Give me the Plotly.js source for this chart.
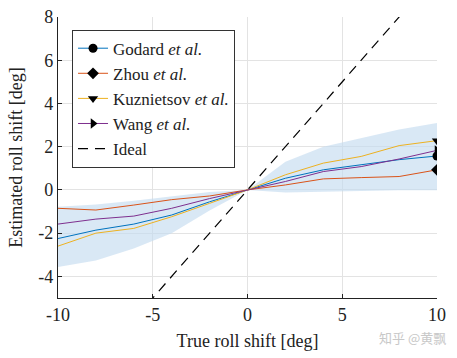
<!DOCTYPE html>
<html><head><meta charset="utf-8">
<script src="https://cdn.plot.ly/plotly-3.0.1.min.js"></script>
<style>body{margin:0;background:#fff}</style>
</head><body><div id="c" style="width:457px;height:358px"></div>
<script>
const xs = [-10,-8,-6,-4,-2,0,2,4,6,8,10];
const godard = [-2.25,-1.86,-1.58,-1.16,-0.55,0,0.54,0.93,1.16,1.40,1.57];
const zhou   = [-0.85,-0.93,-0.70,-0.45,-0.28,0,0.23,0.51,0.57,0.62,0.93];
const kuz    = [-2.60,-2.00,-1.78,-1.24,-0.62,0,0.70,1.24,1.55,2.05,2.28];
const wang   = [-1.58,-1.35,-1.21,-0.85,-0.40,0,0.39,0.85,1.08,1.43,1.83];
const bandUpper = [-0.78,-0.68,-0.50,-0.30,-0.10,0,1.30,2.00,2.41,2.79,3.10];
const bandLower = [-3.57,-3.26,-2.71,-2.00,-0.95,0,-0.12,-0.10,-0.05,-0.02,-0.02];
const idealX = [-10,10], idealY = [-10,10];
const xTicks = [-10,-5,0,5,10], xTickText = ['-10','-5','0','5','10'];
const yTicks = [-4,-2,0,2,4,6,8], yTickText = ['-4','-2','0','2','4','6','8'];
const names = ['Godard <i>et al.</i>','Zhou <i>et al.</i>','Kuznietsov <i>et al.</i>','Wang <i>et al.</i>','Ideal'];
const series = [godard, zhou, kuz, wang];
const colors = ['#0072BD','#D95319','#EDB120','#7E2F8E'];
const symbols = ['circle','diamond','triangle-down','triangle-right'];

const serif = 'Liberation Serif';
const traces = [{
  x: xs.concat(xs.slice().reverse()),
  y: bandUpper.concat(bandLower.slice().reverse()),
  fill: 'toself', fillcolor: 'rgba(196,220,240,0.65)', line: {width: 0},
  mode: 'lines', showlegend: false, hoverinfo: 'skip'
}];
series.forEach((s, i) => {
  traces.push({x: xs, y: s, mode: 'lines', showlegend: false, line: {color: colors[i], width: 1}});
  traces.push({x: xs.slice(-1), y: s.slice(-1), mode: 'markers', showlegend: false,
    marker: {symbol: symbols[i], color: '#000', size: 9}});
});
traces.push({x: idealX, y: idealY, mode: 'lines', showlegend: false, line: {color: '#000', width: 1.2, dash: '10px,7px'}});
// legend entries
series.forEach((s, i) => {
  traces.push({x: [null], y: [null], name: names[i], mode: 'lines+markers',
    line: {color: colors[i], width: 1}, marker: {symbol: symbols[i], color: '#000', size: 9}});
});
traces.push({x: [null], y: [null], name: names[4], mode: 'lines', line: {color: '#000', width: 1.2, dash: '10px,7px'}});

Plotly.newPlot('c', traces, {
  width: 457, height: 358,
  margin: {l: 58, r: 20, t: 17, b: 60},
  paper_bgcolor: '#fff', plot_bgcolor: '#fff',
  font: {family: serif, size: 17, color: '#222'},
  showlegend: true,
  legend: {x: 0.037, y: 0.955, xanchor: 'left', yanchor: 'top', bgcolor: '#fff', bordercolor: '#333', borderwidth: 1,
    font: {family: serif, size: 17, color: '#222'}, tracegroupgap: 0},
  xaxis: {range: [-10, 10], tickvals: xTicks, ticktext: xTickText, showgrid: true, gridcolor: '#e3e3e3', zeroline: false,
    showline: true, linecolor: '#222', linewidth: 1.2, ticks: 'inside', ticklen: 4, tickcolor: '#222',
    title: {text: 'True roll shift [deg]', font: {family: serif, size: 18, color: '#222'}, standoff: 10},
    tickfont: {family: serif, size: 18, color: '#222'}},
  yaxis: {range: [-5, 8], tickvals: yTicks, ticktext: yTickText, showgrid: true, gridcolor: '#e3e3e3', zeroline: false,
    showline: true, linecolor: '#222', linewidth: 1.2, ticks: 'inside', ticklen: 4, tickcolor: '#222',
    title: {text: 'Estimated roll shift [deg]', font: {family: serif, size: 18, color: '#222'}, standoff: 10},
    tickfont: {family: serif, size: 18, color: '#222'}},
  annotations: [{text: '知乎 @黄飘', xref: 'paper', yref: 'paper', x: 1.029, y: -0.14, xanchor: 'right', yanchor: 'middle',
    showarrow: false, font: {family: 'Noto Sans CJK SC', size: 13, color: '#c8c8c8'}}]
}, {displayModeBar: false});
</script></body></html>
